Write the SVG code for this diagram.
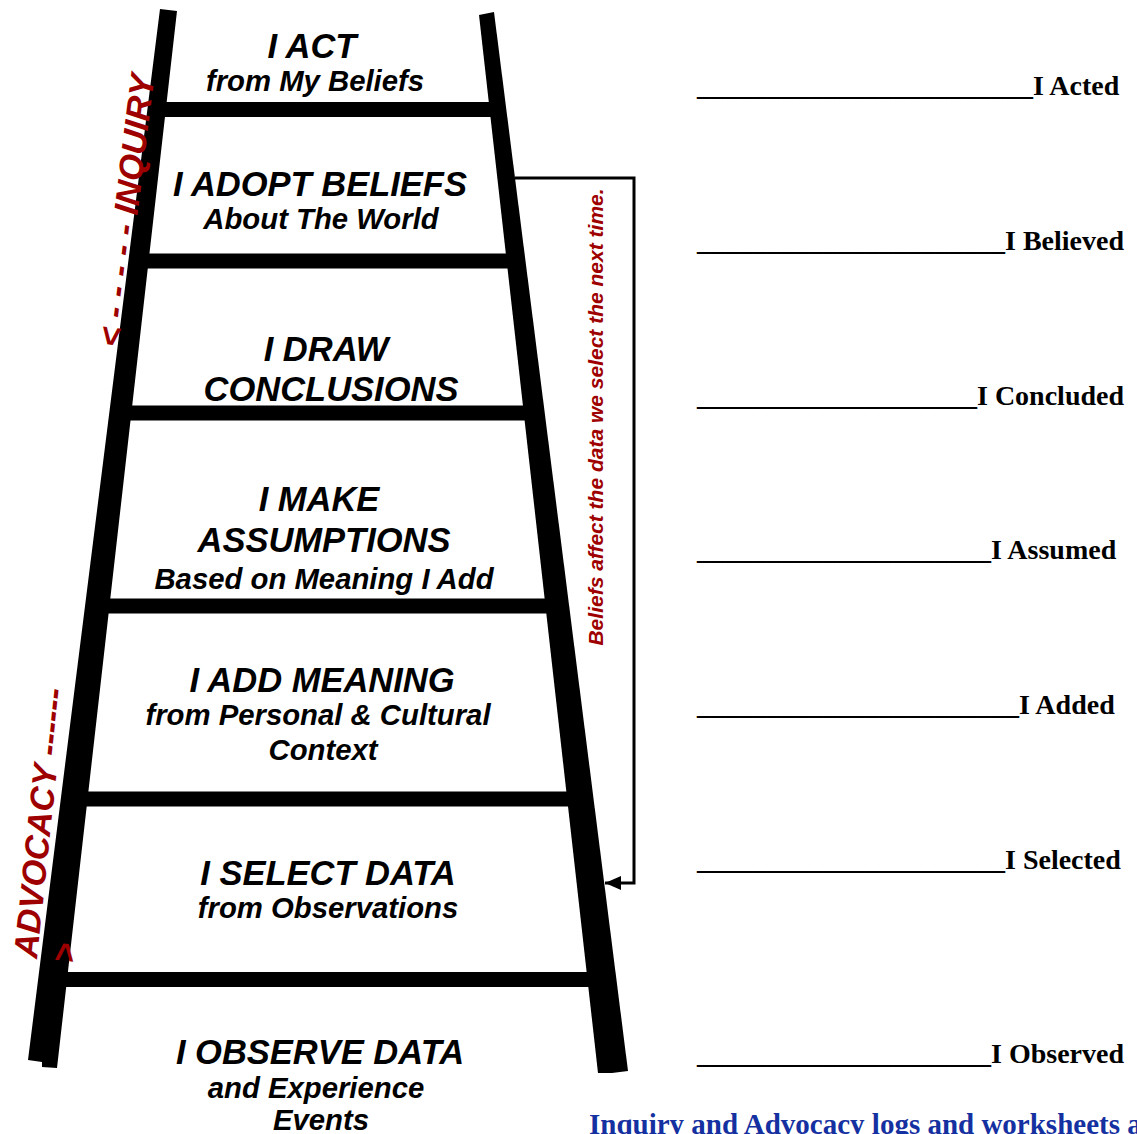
<svg xmlns="http://www.w3.org/2000/svg" width="1137" height="1134" viewBox="0 0 1137 1134">
<style>
.t{font-family:"Liberation Sans",Arial,sans-serif;font-weight:bold;font-style:italic;fill:#000;text-anchor:middle}
.h{font-size:34.5px}
.s{font-size:29.3px}
.red{font-family:"Liberation Sans",Arial,sans-serif;font-weight:bold;font-style:italic;fill:#9E0000}
.log{font-family:"Liberation Serif","Times New Roman",serif;font-weight:bold;font-size:28px;fill:#000}
.blue{font-family:"Liberation Serif","Times New Roman",serif;font-weight:bold;font-size:29px;fill:#1530A0}
.rung{stroke:#000;stroke-width:15;fill:none}
.rail{fill:#000}
.conn{stroke:#000;stroke-width:3;fill:none}
</style>
<defs>
<marker id="arr" markerUnits="userSpaceOnUse" markerWidth="16" markerHeight="14" viewBox="0 0 16 14" refX="16" refY="7" orient="auto">
<path d="M0,0 L16,7 L0,14 z" fill="#000"/>
</marker>
</defs>
<rect width="1137" height="1134" fill="#fff"/>
<g id="ladder">
<line class="rung" x1="156" y1="109.5" x2="498" y2="109.5"/>
<line class="rung" x1="139" y1="261" x2="516" y2="261"/>
<line class="rung" x1="121" y1="413" x2="534" y2="413"/>
<line class="rung" x1="98" y1="606" x2="557" y2="606"/>
<line class="rung" x1="75" y1="799" x2="580" y2="799"/>
<line class="rung" x1="54" y1="979.5" x2="602" y2="979.5"/>
<polygon class="rail" points="160,9 177,11 57,1068 42,1067 42,1062 28,1060"/>
<polygon class="rail" points="479,15 494,12 628,1071 612,1073 598,1073"/>
</g>
<g id="connectors">
<path class="conn" d="M515,178 H634 V883 H605" marker-end="url(#arr)"/>
</g>
<g id="node-act"><text class="t h" x="312" y="58">I ACT</text><text class="t s" x="315" y="91">from My Beliefs</text></g>
<g id="node-adopt"><text class="t h" x="320" y="196">I ADOPT BELIEFS</text><text class="t s" x="321" y="229">About The World</text></g>
<g id="node-draw"><text class="t h" x="326" y="361">I DRAW</text><text class="t h" x="331" y="401">CONCLUSIONS</text></g>
<g id="node-assume"><text class="t h" x="319" y="511">I MAKE</text><text class="t h" x="324" y="552">ASSUMPTIONS</text><text class="t s" x="324" y="589">Based on Meaning I Add</text></g>
<g id="node-meaning"><text class="t h" x="322" y="692">I ADD MEANING</text><text class="t s" x="318" y="725">from Personal &amp; Cultural</text><text class="t s" x="323" y="760">Context</text></g>
<g id="node-select"><text class="t h" x="328" y="885">I SELECT DATA</text><text class="t s" x="328" y="918">from Observations</text></g>
<g id="node-observe"><text class="t h" x="320" y="1064">I OBSERVE DATA</text><text class="t s" x="316" y="1098">and Experience</text><text class="t s" x="321" y="1130">Events</text></g>
<g id="label-inquiry"><text class="red" font-size="34" transform="translate(121,348) rotate(-83)">&lt; - - - - - INQUIRY</text></g>
<g id="label-advocacy"><text class="red" font-size="34" transform="translate(37,959) rotate(-84)">ADVOCACY ------</text><text class="red" font-size="34" transform="translate(75,964) rotate(-84)">&gt;</text></g>
<g id="label-beliefs"><text class="red" font-size="21" text-anchor="middle" transform="translate(603,417) rotate(-90)">Beliefs affect the data we select the next time.</text></g>
<g id="log-acted"><text class="log" x="697" y="95">________________________I Acted</text></g>
<g id="log-believed"><text class="log" x="697" y="250">______________________I Believed</text></g>
<g id="log-concluded"><text class="log" x="697" y="405">____________________I Concluded</text></g>
<g id="log-assumed"><text class="log" x="697" y="559">_____________________I Assumed</text></g>
<g id="log-added"><text class="log" x="697" y="714">_______________________I Added</text></g>
<g id="log-selected"><text class="log" x="697" y="869">______________________I Selected</text></g>
<g id="log-observed"><text class="log" x="697" y="1063">_____________________I Observed</text></g>
<g id="footer"><text class="blue" x="589" y="1134">Inquiry and Advocacy logs and worksheets a</text></g>
</svg>
